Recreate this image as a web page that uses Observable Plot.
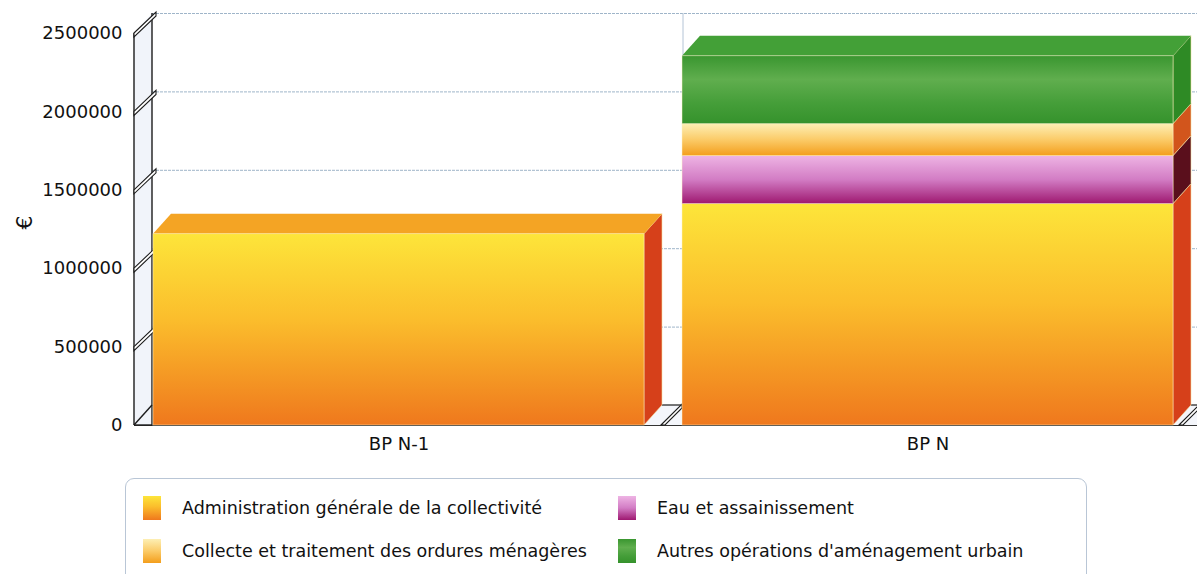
<!DOCTYPE html>
<html><head><meta charset="utf-8">
<script src="https://cdn.jsdelivr.net/npm/d3@7"></script>
<script src="https://cdn.jsdelivr.net/npm/@observablehq/plot@0.6"></script>
<style>
body{margin:0;background:#fff;font-family:"DejaVu Sans",sans-serif;}
#chart{position:relative;width:1197px;height:574px;overflow:hidden;background:#fff}
#chart svg{display:block}
.legend{position:absolute;left:125px;top:478px;width:962px;height:130px;border:1px solid #b9c6d6;border-radius:9px;box-sizing:border-box;}
.item{position:absolute;display:flex;align-items:center;font-size:17.5px;color:#111;white-space:nowrap;height:24px}
.sw{width:18px;height:24px;margin-right:21px;flex:none}
</style></head><body><div id="chart"></div><script>
// ---- data ----
const categories = ["BP N-1", "BP N"];
const series = [
  "Administration générale de la collectivité",
  "Eau et assainissement",
  "Collecte et traitement des ordures ménagères",
  "Autres opérations d'aménagement urbain"
];
const valuesBPN1 = [1220000, 0, 0, 0];
const valuesBPN = [1412000, 306000, 204000, 433000];
const yTicks = [0, 500000, 1000000, 1500000, 2000000, 2500000];

// ---- styles ----
const gradStops = [
  [[0, "#fde53a"], [0.45, "#fbbd2c"], [1, "#ef781d"]],
  [[0, "#eeb4e4"], [0.5, "#d27cc4"], [1, "#9e1870"]],
  [[0, "#fdefb4"], [0.5, "#fbcb68"], [1, "#f39e1c"]],
  [[0, "#3a9630"], [0.35, "#60ae4e"], [0.7, "#459e39"], [1, "#35922c"]]
];
const sideColors = ["#d6401a", "#5a0f1c", "#d2551c", "#2e8a25"];
const topColors = ["#f4a424", "#c060a8", "#f8c860", "#43a037"];
const DX = 18, DY = -20, WALL = 18;

const table = [];
[valuesBPN1, valuesBPN].forEach((vals, c) => vals.forEach((v, s) => {
  if (v > 0) table.push({cat: categories[c], series: series[s], s, value: v, grad: `url(#g${s})`});
}));

function bw(scales) {
  const x = scales.x;
  return typeof x.bandwidth === "function" ? x.bandwidth() : scales.scales.x.bandwidth;
}

function faces(index, scales, values) {
  const w = bw(scales);
  const X = values.x, Y1 = values.y1, Y2 = values.y2;
  const g = d3.create("svg:g");
  const top = new Map();
  for (const i of index) {
    const yt = Math.min(Y1[i], Y2[i]);
    if (!top.has(X[i]) || yt < Math.min(Y1[top.get(X[i])], Y2[top.get(X[i])])) top.set(X[i], i);
  }
  for (const i of index) {
    const x0 = X[i], x1 = X[i] + w;
    const yt = Math.min(Y1[i], Y2[i]), yb = Math.max(Y1[i], Y2[i]);
    const s = table[i].s;
    g.append("path")
      .attr("d", `M${x1},${yt}L${x1 + DX},${yt + DY}L${x1 + DX},${yb + DY}L${x1},${yb}Z`)
      .attr("fill", sideColors[s]).attr("stroke", "#f5e0a0").attr("stroke-width", 0.6);
    if (top.get(X[i]) === i) {
      g.append("path")
        .attr("d", `M${x0},${yt}L${x0 + DX},${yt + DY}L${x1 + DX},${yt + DY}L${x1},${yt}Z`)
        .attr("fill", topColors[s]);
    }
  }
  return g.node();
}

function wall(index, scales, values, dims) {
  const Y = values.y;
  const g = d3.create("svg:g");
  const xb = dims.marginLeft, x0 = xb - WALL;
  let yTop = Infinity, y0 = -Infinity;
  for (const i of index) { yTop = Math.min(yTop, Y[i]); y0 = Math.max(y0, Y[i]); }
  g.append("path").attr("d", `M${x0},${yTop}L${xb},${yTop + DY}L${xb},${y0}L${x0},${y0}Z`).attr("fill", "#f1f4fa");
  const w = bw(scales);
  const xs = categories.map(c => scales.x(c));
  const st = {stroke: "#1c1c1c", "stroke-width": 1.4, fill: "none"};
  const line = (a, b, c, d, o = st) => { const l = g.append("line").attr("x1", a).attr("y1", b).attr("x2", c).attr("y2", d); for (const k in o) l.attr(k, o[k]); return l; };
  // vertical back separator between categories
  for (let k = 0; k < xs.length - 1; k++) {
    const xm = xs[k + 1] + 1;
    line(xm, yTop + DY, xm, y0 + DY, {stroke: "#b4c4d6", "stroke-width": 1});
  }
  // floor
  line(x0, y0 + 0.5, dims.width, y0 + 0.5, {stroke: "#333", "stroke-width": 1});
  const slash = (xa, y) => g.append("path")
    .attr("d", `M${xa},${y}L${xa + DX + 3},${y + DY - 1}L${xa + DX + 3},${y + DY + 3}L${xa + 4},${y}Z`)
    .attr("fill", "#fff").attr("stroke", "#1c1c1c").attr("stroke-width", 1.1);
  for (let k = 0; k < xs.length; k++) {
    const xe = xs[k] + w + DX;
    const xn = k < xs.length - 1 ? xs[k + 1] : dims.width;
    g.append("path").attr("d", `M${xs[k] + w},${y0}L${xe},${y0 + DY}L${xn},${y0 + DY}L${xn},${y0}Z`).attr("fill", "#f4f6fb");
    line(xe, y0 + DY, xn, y0 + DY, {stroke: "#1c1c1c", "stroke-width": 1.2});
    slash(k < xs.length - 1 ? xn - DX - 3 : xs[k] + w + 6, y0);
  }
  // wall
  line(x0, yTop, x0, y0);
  line(xb, yTop + DY, xb, y0);
  line(x0, y0, xb, y0);
  for (const i of index) {
    const y = Y[i];
    if (y === y0) { line(x0, y, xb, y + DY); continue; }
    g.append("path").attr("d", `M${x0},${y}L${xb + 4},${y + DY - 1}L${xb + 4},${y + DY + 3}L${x0},${y + 4}Z`)
      .attr("fill", "#fff").attr("stroke", "#1c1c1c").attr("stroke-width", 1.1);
  }
  return g.node();
}

const plot = Plot.plot({
  width: 1197,
  height: 460,
  marginLeft: 152,
  marginRight: 24,
  marginTop: 33,
  marginBottom: 35,
  style: {fontFamily: "DejaVu Sans, sans-serif", fontSize: "18px", color: "#111", background: "#fff"},
  x: {domain: categories, paddingInner: 0.072, paddingOuter: 0, label: null},
  y: {domain: [0, 2500000], label: null},
  color: {type: "identity"},
  marks: [
    Plot.ruleY(yTicks, {y: d => d, dy: DY, insetRight: -30, stroke: "#9fb5c9", strokeDasharray: "3,1", strokeWidth: 1}),
    Plot.ruleY(yTicks, {y: d => d, render: wall}),
    Plot.barY(table, {x: "cat", y: "value", z: "series", render: faces}),
    Plot.barY(table, {x: "cat", y: "value", z: "series", fill: "grad", stroke: "#fff4c8", strokeOpacity: 0.6, strokeWidth: 0.8}),
    Plot.axisY({ticks: yTicks, tickFormat: d3.format("d"), tickSize: 0, tickPadding: 30, label: null}),
    Plot.axisX({tickSize: 0, tickPadding: 12, label: null}),
    Plot.text(["€"], {text: d => d, frameAnchor: "left", dx: -128, rotate: -90, fontSize: 22})
  ]
});

// gradient definitions
const defs = d3.select(plot).insert("defs", ":first-child");
gradStops.forEach((stops, s) => {
  const lg = defs.append("linearGradient").attr("id", `g${s}`).attr("x1", 0).attr("y1", 0).attr("x2", 0).attr("y2", 1);
  stops.forEach(([o, c]) => lg.append("stop").attr("offset", o).attr("stop-color", c));
});

const chart = document.getElementById("chart");
chart.appendChild(plot);

// legend
const legend = document.createElement("div");
legend.className = "legend";
const pos = [[17, 17], [492, 17], [17, 60], [492, 60]];
series.forEach((name, s) => {
  const it = document.createElement("div");
  it.className = "item";
  it.style.left = pos[s][0] + "px";
  it.style.top = pos[s][1] + "px";
  const sw = document.createElement("span");
  sw.className = "sw";
  sw.style.background = `linear-gradient(to bottom, ${gradStops[s].map(([o, c]) => `${c} ${o * 100}%`).join(", ")})`;
  const tx = document.createElement("span");
  tx.textContent = name;
  it.appendChild(sw);
  it.appendChild(tx);
  legend.appendChild(it);
});
chart.appendChild(legend);
</script></body></html>
